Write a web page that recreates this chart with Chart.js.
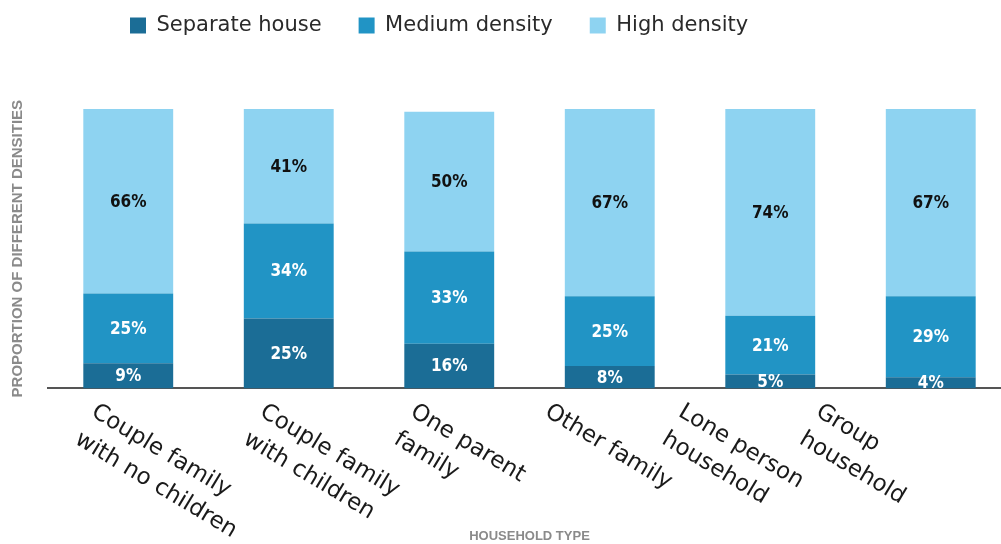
<!DOCTYPE html>
<html>
<head>
<meta charset="utf-8">
<script src="https://cdn.jsdelivr.net/npm/chart.js@4.4.1/dist/chart.umd.min.js"></script>
<style>
  html, body { margin: 0; padding: 0; background: #fff; overflow: hidden; width: 1001px; height: 544px; }
  canvas { display: block; }
</style>
</head>
<body>
<canvas id="c" width="1012" height="544"></canvas>
<script>
// ---- data ----
const categories = [
  ["Couple family", "with no children"],
  ["Couple family", "with children"],
  ["One parent", "family"],
  ["Other family"],
  ["Lone person", "household"],
  ["Group", "household"]
];
const seriesNames = ["Separate house", "Medium density", "High density"];
const separateHouse = [9, 25, 16, 8, 5, 4];
const mediumDensity = [25, 34, 33, 25, 21, 29];
const highDensity   = [66, 41, 50, 67, 74, 67];
const yAxisTitle = "PROPORTION OF DIFFERENT DENSITIES";
const xAxisTitle = "HOUSEHOLD TYPE";

// ---- styles ----
const colors = ["#1b6d96", "#2194c5", "#8ed3f1"];
const labelColors = ["#ffffff", "#ffffff", "#111111"];
const tickShift = [-29, -21, -31, -57, -84, -107];

const valueLabels = {
  id: 'valueLabels',
  afterDatasetsDraw(chart) {
    const ctx = chart.ctx;
    ctx.save();
    ctx.font = "bold 17px 'Liberation Sans Narrow', 'DejaVu Sans Condensed', sans-serif";
    ctx.textAlign = 'center';
    ctx.textBaseline = 'middle';
    chart.data.datasets.forEach((ds, di) => {
      const meta = chart.getDatasetMeta(di);
      meta.data.forEach((bar, i) => {
        const v = ds.data[i];
        const yc = (bar.y + bar.base) / 2;
        ctx.fillStyle = labelColors[di];
        ctx.fillText(v + '%', bar.x, yc + 1);
      });
    });
    ctx.restore();
  }
};

const rotatedTicks = {
  id: 'rotatedTicks',
  afterDraw(chart) {
    const ctx = chart.ctx;
    const xs = chart.scales.x;
    const ang = 31 * Math.PI / 180;
    ctx.save();
    ctx.font = "23px 'DejaVu Sans', sans-serif";
    ctx.fillStyle = '#1a1a1a';
    ctx.textAlign = 'left';
    ctx.textBaseline = 'top';
    categories.forEach((lines, i) => {
      const x0 = xs.getPixelForValue(i) + tickShift[i];
      const y0 = chart.chartArea.bottom + 12;
      ctx.save();
      ctx.translate(x0, y0);
      ctx.rotate(ang);
      lines.forEach((ln, li) => {
        ctx.fillText(ln, 0, li * 32);
      });
      ctx.restore();
    });
    ctx.restore();
  }
};

const legendShift = {
  id: 'legendShift',
  afterLayout(chart) {
    const lg = chart.legend;
    const h = lg.bottom - lg.top;
    lg.left = 93;
    lg.top = -22;
    lg.bottom = lg.top + h;
  }
};

new Chart(document.getElementById('c'), {
  type: 'bar',
  data: {
    labels: categories,
    datasets: [
      { label: seriesNames[0], data: separateHouse, backgroundColor: colors[0] },
      { label: seriesNames[1], data: mediumDensity, backgroundColor: colors[1] },
      { label: seriesNames[2], data: highDensity, backgroundColor: colors[2] }
    ]
  },
  options: {
    responsive: false,
    animation: false,
    layout: { padding: { top: 41, right: 1, left: 0, bottom: 0 } },
    datasets: { bar: { categoryPercentage: 1.0, barPercentage: 0.56 } },
    plugins: {
      legend: {
        position: 'top',
        align: 'start',
        labels: {
          boxWidth: 16, boxHeight: 16, padding: 37,
          color: '#2a2a2a',
          font: { family: "'DejaVu Sans', sans-serif", size: 21 }
        }
      },
      tooltip: { enabled: false }
    },
    scales: {
      x: {
        stacked: true,
        offset: true,
        grid: { display: false, drawTicks: false },
        border: { display: true, color: '#555555', width: 2 },
        ticks: { display: false },
        title: {
          display: true, text: xAxisTitle, color: '#8a8a8a',
          font: { family: "'Liberation Sans', sans-serif", size: 13, weight: 'bold' },
          padding: { top: 140, bottom: 0 }
        }
      },
      y: {
        stacked: true,
        min: 0, max: 100,
        grid: { display: false, drawTicks: false },
        border: { display: false },
        ticks: { display: false },
        title: {
          display: true, text: yAxisTitle, color: '#8a8a8a',
          font: { family: "'Liberation Sans', sans-serif", size: 15, weight: 'bold' },
          padding: { top: 9, bottom: 21 }
        }
      }
    }
  },
  plugins: [valueLabels, rotatedTicks, legendShift]
});
</script>
</body>
</html>
